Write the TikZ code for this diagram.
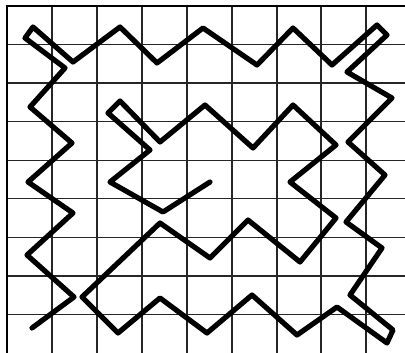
\documentclass[tikz,border=0pt]{standalone}
\usetikzlibrary{arrows.meta}

\begin{document}
\begin{tikzpicture}[x=0.25mm,y=-0.25mm,
  gridline/.style={line width=0.9pt,black!85},
  border/.style={line width=1.5pt,black},
  knot/.style={line width=1.3mm,black,line join=round,line cap=round}]
  \useasboundingbox (0,0) rectangle (405,353);
  % grid
  \foreach \gx in {52,97,142,187,232,277,321,366}
    \draw[gridline] (\gx,6) -- (\gx,353);
  \foreach \gy in {44.6,83.1,121.7,160.2,198.8,237.3,275.9,314.4}
    \draw[gridline] (7,\gy) -- (405,\gy);
  \draw[border] (7,353) -- (7,6) -- (405,6);
  % the line
  \draw[knot] (32,328) -- (74,297) -- (27,255) -- (73,213) -- (28,182)
    -- (72,143) -- (30,107) -- (65,68) -- (25,38) -- (33,27) -- (73,62)
    -- (120,27) -- (157,63) -- (203,28) -- (257,65) -- (293,28) -- (332,65)
    -- (377,25) -- (387,35) -- (347,72) -- (392,98) -- (348,142) -- (385,175)
    -- (346,222) -- (382,248) -- (350,295) -- (393,330) -- (387,343)
    -- (337,307) -- (297,335) -- (252,295) -- (207,333) -- (160,298)
    -- (118,333) -- (82,297) -- (160,223) -- (210,258) -- (248,220)
    -- (300,262) -- (336,218) -- (290,182) -- (336,145) -- (293,105)
    -- (253,148) -- (205,105) -- (160,142) -- (120,101) -- (108,113)
    -- (150,150) -- (110,182) -- (163,212) -- (210,182);
\end{tikzpicture}
\end{document}
